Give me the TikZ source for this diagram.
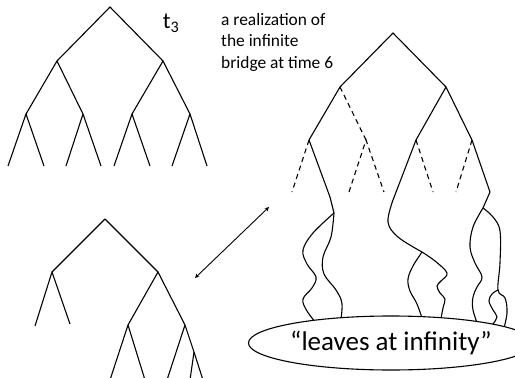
\documentclass[tikz,border=0pt]{standalone}
\usepackage{fontspec}
\setmainfont{Carlito}
\usetikzlibrary{shapes.geometric}
\tikzset{
  branch/.style={line width=1.1pt, line join=round},
  ghost/.style={line width=1.1pt, dash pattern=on 5pt off 4pt},
  wiggle/.style={line width=1.1pt, smooth, tension=0.6},
}
\begin{document}
\begin{tikzpicture}[>=stealth, x=1pt, y=-1pt]
  \useasboundingbox (0,0) rectangle (515,378);
  % tree t_3
  \coordinate (a) at (110,7);
  \coordinate (a0) at (57,61);   \coordinate (a1) at (163,61);
  \coordinate (a00) at (26,114); \coordinate (a01) at (83,114);
  \coordinate (a10) at (132,114);\coordinate (a11) at (190,114);
  \draw[branch] (a0) -- (a) -- (a1);
  \draw[branch] (a00) -- (a0) -- (a01);
  \draw[branch] (a10) -- (a1) -- (a11);
  \foreach \p/\l/\r in {a00/8/44, a01/66/101, a10/114/150, a11/172/207}{
    \coordinate (\p l) at (\l,166); \coordinate (\p r) at (\r,166);
    \draw[branch] (\p l) -- (\p) -- (\p r);
  }
  \node[font=\fontsize{23}{25}\selectfont] (tname) at (171,23) {t\textsubscript{3}};
  \node[anchor=base west, align=left, inner sep=0pt, font=\fontsize{17.4}{21.5}\selectfont] (caption) at (221,68)
    {a realization of\\the infinite\\bridge at time 6};
  % second tree
  \coordinate (b) at (105,219);
  \coordinate (b0) at (52,272);   \coordinate (b1) at (158,272);
  \coordinate (b00) at (35,326);  \coordinate (b01) at (70,324);
  \coordinate (b10) at (128,325); \coordinate (b11) at (185,325);
  \coordinate (b100) at (110,380);\coordinate (b101) at (145,380);
  \coordinate (b110) at (167,380);\coordinate (b111) at (194,352);
  \coordinate (b1110) at (190,380);\coordinate (b1111) at (203,380);
  \draw[branch] (b0) -- (b) -- (b1);
  \draw[branch] (b00) -- (b0) -- (b01);
  \draw[branch] (b10) -- (b1) -- (b11);
  \draw[branch] (b100) -- (b10) -- (b101);
  \draw[branch] (b110) -- (b11) -- (b111) -- (b1111);
  \draw[branch] (b111) -- (b1110);
  % arrow between them
  \coordinate (p) at (195,278); \coordinate (q) at (269,207);
  \draw[<->, line width=0.9pt] (p) -- (q);
  % the bridge
  \coordinate (c) at (393,33);
  \coordinate (c0) at (340,87);   \coordinate (c1) at (446,87);
  \coordinate (c00) at (309,140); \coordinate (c01) at (366,140);
  \coordinate (c10) at (416,140); \coordinate (c11) at (472,140);
  \draw[branch] (c0) -- (c) -- (c1);
  \draw[branch] (c00) -- (c0);
  \draw[branch] (c10) -- (c1) -- (c11);
  \draw[ghost] (c0) -- (c01);
  \draw[ghost] (c00) -- (292,192);
  \draw[ghost] (349,192) -- (c01) -- (384,192);
  \draw[ghost] (c10) -- (433,192);
  \draw[ghost] (c11) -- (456,192);
  % spines going down to infinity
  \coordinate (sa) at (334,213); \coordinate (sb) at (422,252);
  \coordinate (sc) at (483,208); \coordinate (sd) at (498,290);
  \draw[branch] (c00) -- (330,197) plot[wiggle] coordinates {(330,197) (sa)};
  \draw[wiggle] plot coordinates {(sa) (331,237) (323,257) (324,274) (336,290) (342,304) (340,326)};
  \draw[wiggle] plot coordinates {(sa) (313,233) (303,250) (307,264) (316,277) (312,288) (303,299) (307,311) (320,328)};
  \draw[branch] (c10) -- (393,200) plot[wiggle] coordinates {(393,200) (388,222) (398,237) (sb)};
  \draw[wiggle] plot coordinates {(sb) (435,261) (447,273) (441,281) (437,286) (440,293) (445,299) (443,308) (440,324)};
  \draw[wiggle] plot coordinates {(sb) (413,266) (408,279) (410,291) (417,304) (424,324)};
  \draw[branch] (c11) -- (490,192) -- (sc);
  \draw[wiggle] plot coordinates {(sc) (493,217) (500,231) (500,263) (sd) (505,298) (507,313) (503,332)};
  \draw[wiggle] plot coordinates {(sc) (473,227) (470,247) (475,263) (482,277) (477,287) (473,297) (473,310) (479,328)};
  \draw[wiggle] plot coordinates {(sd) (492,294) (489,301) (493,310) (497,317) (493,324) (490,330)};
  % leaves at infinity
  \node[draw, fill=white, ellipse, line width=1.1pt, minimum width=248pt, minimum height=54pt, inner sep=0pt,
    font=\fontsize{27}{29}\selectfont] (infinity) at (391,343) {“leaves at infinity”};
\end{tikzpicture}
\end{document}
